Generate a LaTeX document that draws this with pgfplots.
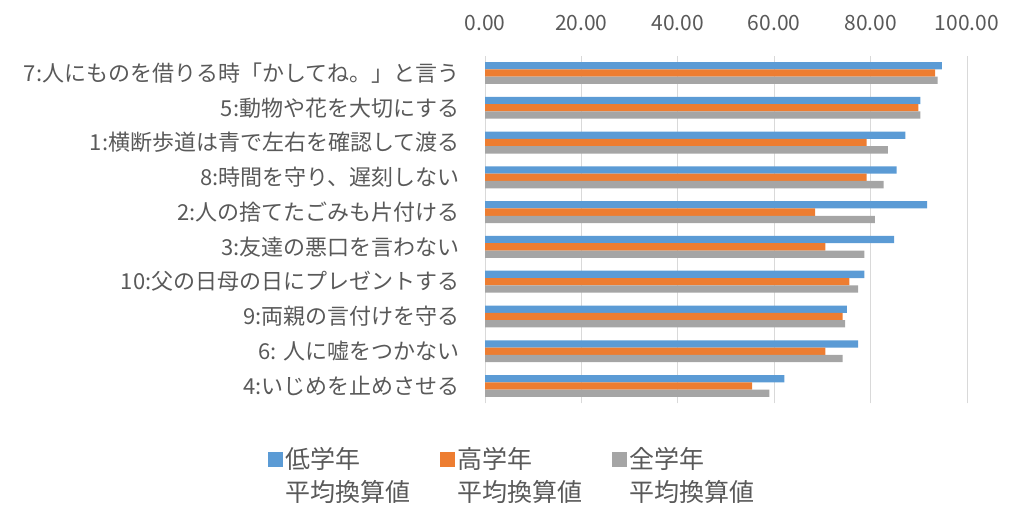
\documentclass[border=0pt]{standalone}
\usepackage{fontspec}
\setmainfont{Noto Sans CJK JP}
\usepackage{pgfplots}
\pgfplotsset{compat=1.18}
\definecolor{cblue}{HTML}{5B9BD5}
\definecolor{corange}{HTML}{ED7D31}
\definecolor{cgray}{HTML}{A5A5A5}
\definecolor{txt}{HTML}{595959}
\definecolor{grid}{HTML}{D9D9D9}
\begin{document}
\begin{tikzpicture}[x=1pt,y=1pt]
\path[use as bounding box] (0,0) rectangle (1022,504);
\begin{axis}[
  at={(485pt,100.6pt)}, anchor=south west,
  scale only axis, width=482pt, height=347.8pt,
  xbar, bar width=7.3pt,
  xmin=0, xmax=100, ymin=-0.5, ymax=9.5,
  xtick={0,20,...,100},
  xticklabel pos=upper,
  xmajorgrids, grid style={color=grid, line width=1pt},
  axis line style={draw=none},
  major tick length=0pt, tick style={draw=none},
  /pgf/number format/.cd, fixed, fixed zerofill, precision=2, assume math mode=true, /pgfplots/.cd,
  xticklabel style={font=\fontsize{21}{24}\selectfont, text=txt, anchor=south, yshift=21pt},
  ytick={0,...,9},
  yticklabels={4:いじめを止めさせる,6: 人に嘘をつかない,9:両親の言付けを守る,10:父の日母の日にプレゼントする,3:友達の悪口を言わない,2:人の捨てたごみも片付ける,8:時間を守り、遅刻しない,1:横断歩道は青で左右を確認して渡る,5:動物や花を大切にする,7:人にものを借りる時「かしてね。」と言う},
  yticklabel style={font=\fontsize{22}{25}\selectfont, text=txt, xshift=-22pt},
  legend columns=3,
  legend style={at={(-0.456,-0.113)}, anchor=north west, draw=none, fill=none,
    font=\fontsize{25}{33}\selectfont, text=txt,
    nodes={align=left},
    /tikz/every even column/.append style={column sep=28pt}},
  legend image code/.code={\fill[#1] (0pt,8pt) rectangle (15pt,23pt);},
]
\addplot[fill=cblue, draw=none, bar shift=7.3pt] coordinates {(62.1,0) (77.4,1) (75.1,2) (78.7,3) (84.9,4) (91.7,5) (85.4,6) (87.2,7) (90.3,8) (94.8,9)};
\addplot[fill=corange, draw=none, bar shift=0pt] coordinates {(55.4,0) (70.6,1) (74.2,2) (75.6,3) (70.6,4) (68.5,5) (79.2,6) (79.2,7) (89.9,8) (93.4,9)};
\addplot[fill=cgray, draw=none, bar shift=-7.3pt] coordinates {(59.0,0) (74.2,1) (74.7,2) (77.4,3) (78.7,4) (80.9,5) (82.7,6) (83.6,7) (90.3,8) (93.9,9)};
\legend{低学年\\平均換算値,高学年\\平均換算値,全学年\\平均換算値}
\end{axis}
\end{tikzpicture}
\end{document}
